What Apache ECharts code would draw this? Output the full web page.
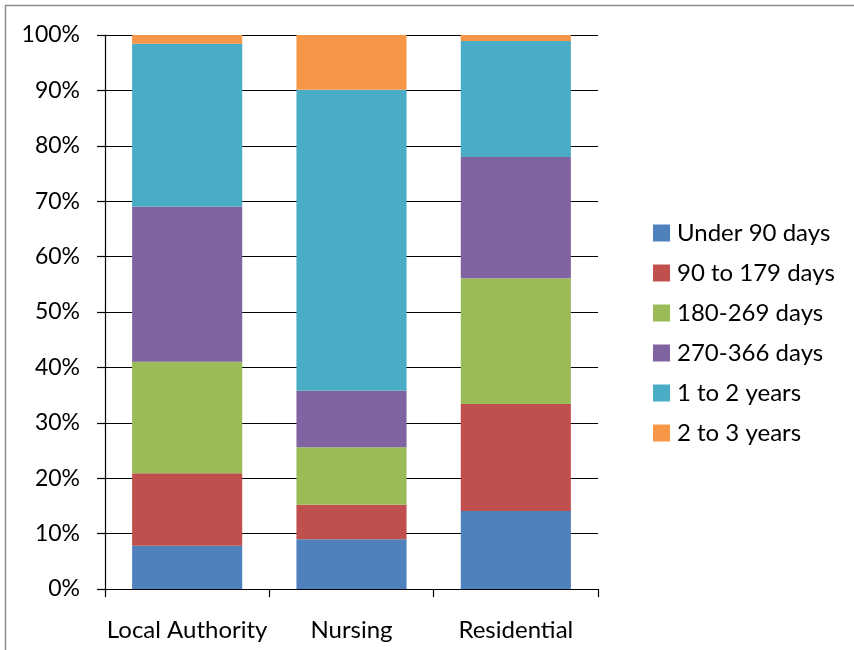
<!DOCTYPE html>
<html>
<head>
<meta charset="utf-8">
<script src="https://cdn.jsdelivr.net/npm/echarts@6/dist/echarts.min.js"></script>
<style>
html,body{margin:0;padding:0;background:#fff;}
#chart{width:854px;height:650px;}
</style>
</head>
<body>
<div id="chart"></div>
<script>
const categories = ['Local Authority', 'Nursing', 'Residential'];
const seriesNames = ['Under 90 days', '90 to 179 days', '180-269 days', '270-366 days', '1 to 2 years', '2 to 3 years'];
const under90 = [7.8, 9.0, 14.1];
const d90to179 = [13.1, 6.2, 19.3];
const d180to269 = [20.1, 10.4, 22.7];
const d270to366 = [28.0, 10.2, 21.9];
const y1to2 = [29.4, 54.3, 20.9];
const y2to3 = [1.6, 9.9, 1.1];
const yTicks = [0, 10, 20, 30, 40, 50, 60, 70, 80, 90, 100];
const colors = ['#4F81BD', '#C0504D', '#9BBB59', '#8064A2', '#4BACC6', '#F79646'];

const values = [under90, d90to179, d180to269, d270to366, y1to2, y2to3];
const FONT = 'Lato';

const chart = echarts.init(document.getElementById('chart'), null, {renderer: 'canvas'});
chart.setOption({
  animation: false,
  backgroundColor: '#fff',
  color: colors,
  grid: {left: 105, right: 256, top: 35, bottom: 61, containLabel: false},
  legend: {
    orient: 'vertical',
    left: 653,
    top: 221,
    padding: 0,
    itemWidth: 17,
    itemHeight: 17,
    itemGap: 16,
    icon: 'rect',
    textStyle: {fontFamily: FONT, fontSize: 24, color: '#000', padding: [0, 0, 0, 2], lineHeight: 24},
    data: seriesNames
  },
  xAxis: {
    type: 'category',
    data: categories,
    axisLine: {lineStyle: {color: '#000', width: 1.2}},
    axisTick: {show: true, length: 8, lineStyle: {color: '#000', width: 1.2}, alignWithLabel: false},
    axisLabel: {fontFamily: FONT, fontSize: 24, color: '#000', margin: 29, interval: 0}
  },
  yAxis: {
    type: 'value',
    min: 0,
    max: 100,
    interval: 10,
    axisLine: {show: true, lineStyle: {color: '#000', width: 1.2}},
    axisTick: {show: true, length: 8, lineStyle: {color: '#000', width: 1.2}},
    splitLine: {show: true, lineStyle: {color: '#000', width: 1.2}},
    axisLabel: {
      fontFamily: FONT, fontSize: 23, color: '#000', margin: 25,
      formatter: function (v) { return yTicks.indexOf(v) >= 0 ? v + '%' : ''; }
    }
  },
  graphic: [
    {type: 'line', shape: {x1: 5, y1: 5.5, x2: 854, y2: 5.5}, style: {stroke: '#8c8c8c', lineWidth: 1.5}, silent: true},
    {type: 'line', shape: {x1: 5.5, y1: 5, x2: 5.5, y2: 650}, style: {stroke: '#8c8c8c', lineWidth: 1.5}, silent: true}
  ],
  series: seriesNames.map(function (name, i) {
    return {
      name: name,
      type: 'bar',
      stack: 'total',
      barCategoryGap: '33%',
      data: values[i],
      itemStyle: {color: colors[i]}
    };
  })
});
</script>
</body>
</html>
